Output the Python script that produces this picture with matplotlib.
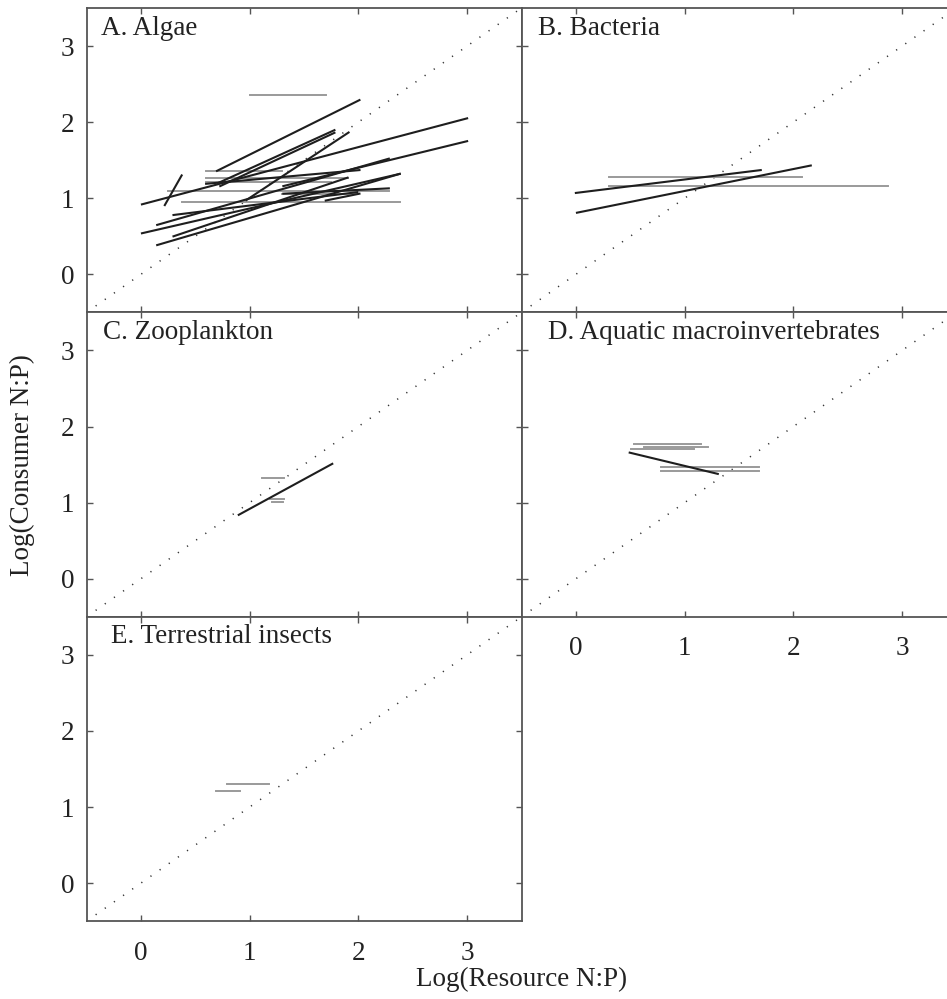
import numpy as np
import matplotlib
matplotlib.use("Agg")
import matplotlib.pyplot as plt

plt.rcParams['font.family'] = ['Liberation Serif', 'DejaVu Serif']

# panel titles
titles = ["A. Algae", "B. Bacteria", "C. Zooplankton",
          "D. Aquatic macroinvertebrates", "E. Terrestrial insects"]

# black regression lines: x start, x end, y start, y end
algae_bx0 = [0.70, 0.71, 0.73, 0.97, 0.22, 0.01, 1.31, 0.01, 0.15, 0.15, 0.30, 0.30, 0.60, 1.31, 1.70]
algae_bx1 = [2.01, 1.78, 1.78, 1.91, 0.375, 3.00, 3.00, 2.38, 2.38, 2.28, 1.99, 1.90, 2.01, 2.28, 2.01]
algae_by0 = [1.36, 1.20, 1.16, 0.976, 0.91, 0.92, 1.16, 0.54, 0.385, 0.65, 0.78, 0.50, 1.19, 1.06, 0.97]
algae_by1 = [2.29, 1.895, 1.86, 1.864, 1.30, 2.05, 1.75, 1.32, 1.32, 1.52, 1.08, 1.27, 1.37, 1.13, 1.06]

# gray horizontal lines: x start, x end, y
algae_gx0 = [1.00, 0.60, 0.60, 0.60, 0.25, 0.38, 1.30]
algae_gx1 = [1.70, 1.30, 1.90, 1.75, 2.28, 2.38, 2.00]
algae_gy = [2.36, 1.36, 1.26, 1.22, 1.09, 0.95, 1.05]

bact_bx0 = [0.00, 0.01]
bact_bx1 = [1.70, 2.16]
bact_by0 = [1.07, 0.81]
bact_by1 = [1.37, 1.43]
bact_gx0 = [0.30, 0.30]
bact_gx1 = [2.08, 2.87]
bact_gy = [1.275, 1.166]

zoo_bx0 = [0.90]
zoo_bx1 = [1.76]
zoo_by0 = [0.84]
zoo_by1 = [1.51]
zoo_gx0 = [1.11, 1.19, 1.21]
zoo_gx1 = [1.32, 1.32, 1.31]
zoo_gy = [1.32, 1.05, 1.01]

macro_bx0 = [0.495]
macro_bx1 = [1.305]
macro_by0 = [1.657]
macro_by1 = [1.378]
macro_gx0 = [0.535, 0.626, 0.51, 0.785, 0.785]
macro_gx1 = [1.146, 1.216, 1.085, 1.68, 1.68]
macro_gy = [1.77, 1.736, 1.70, 1.474, 1.417]

ins_bx0, ins_bx1, ins_by0, ins_by1 = [], [], [], []
ins_gx0 = [0.795, 0.69]
ins_gx1 = [1.18, 0.91]
ins_gy = [1.305, 1.213]

panels = [
    (algae_bx0, algae_bx1, algae_by0, algae_by1, algae_gx0, algae_gx1, algae_gy),
    (bact_bx0, bact_bx1, bact_by0, bact_by1, bact_gx0, bact_gx1, bact_gy),
    (zoo_bx0, zoo_bx1, zoo_by0, zoo_by1, zoo_gx0, zoo_gx1, zoo_gy),
    (macro_bx0, macro_bx1, macro_by0, macro_by1, macro_gx0, macro_gx1, macro_gy),
    (ins_bx0, ins_bx1, ins_by0, ins_by1, ins_gx0, ins_gx1, ins_gy),
]

ticks = [0, 1, 2, 3]

fig = plt.figure(figsize=(9.47, 9.99), dpi=100)
W, H = 947.0, 999.0
pw, ph = 435.0, 304.4
lefts = [86.5, 86.5 + pw]
tops = [8.0, 8.0 + ph, 8.0 + 2 * ph]
title_dx = [14, 17, 16, 26, 24]

for i, data in enumerate(panels):
    row, col = i // 2, i % 2
    ax = fig.add_axes([lefts[col] / W, (H - tops[row] - ph) / H, pw / W, ph / H])
    bx0, bx1, by0, by1, gx0, gx1, gy = data
    ax.plot([-0.5, 3.5], [-0.5, 3.5], color='#333333', lw=1.1,
            linestyle=(0, (0.8, 6.5)), zorder=1)
    for a, b, y in zip(gx0, gx1, gy):
        ax.plot([a, b], [y, y], color='#9a9a9a', lw=1.4, zorder=2)
    for a, b, c, d in zip(bx0, bx1, by0, by1):
        ax.plot([a, b], [c, d], color='#1e1e1e', lw=1.5, zorder=3)
    ax.set_xlim(-0.5, 3.5)
    ax.set_ylim(-0.5, 3.5)
    ax.set_xticks(ticks)
    ax.set_yticks(ticks)
    ax.tick_params(direction='in', length=4, width=1, color='#555555',
                   top=True, right=True, labelsize=19.5, labelcolor='#222222')
    ax.tick_params(axis='x', pad=14)
    ax.tick_params(axis='y', pad=9)
    if i not in (3, 4):
        ax.set_xticklabels([])
    if col == 1:
        ax.set_yticklabels([])
    for s in ax.spines.values():
        s.set_color('#555555')
        s.set_linewidth(1.3)
    ax.text(title_dx[i] / pw, 0.975, titles[i], transform=ax.transAxes,
            ha='left', va='top', fontsize=19.5, color='#222222')

fig.text(522 / W, 1 - 979 / H, "Log(Resource N:P)", ha='center', va='center',
         fontsize=19.5, color='#222222')
fig.text(22 / W, 1 - 465 / H, "Log(Consumer N:P)", ha='center', va='center',
         rotation=90, fontsize=19.5, color='#222222')

fig.savefig("out.png", dpi=100)
